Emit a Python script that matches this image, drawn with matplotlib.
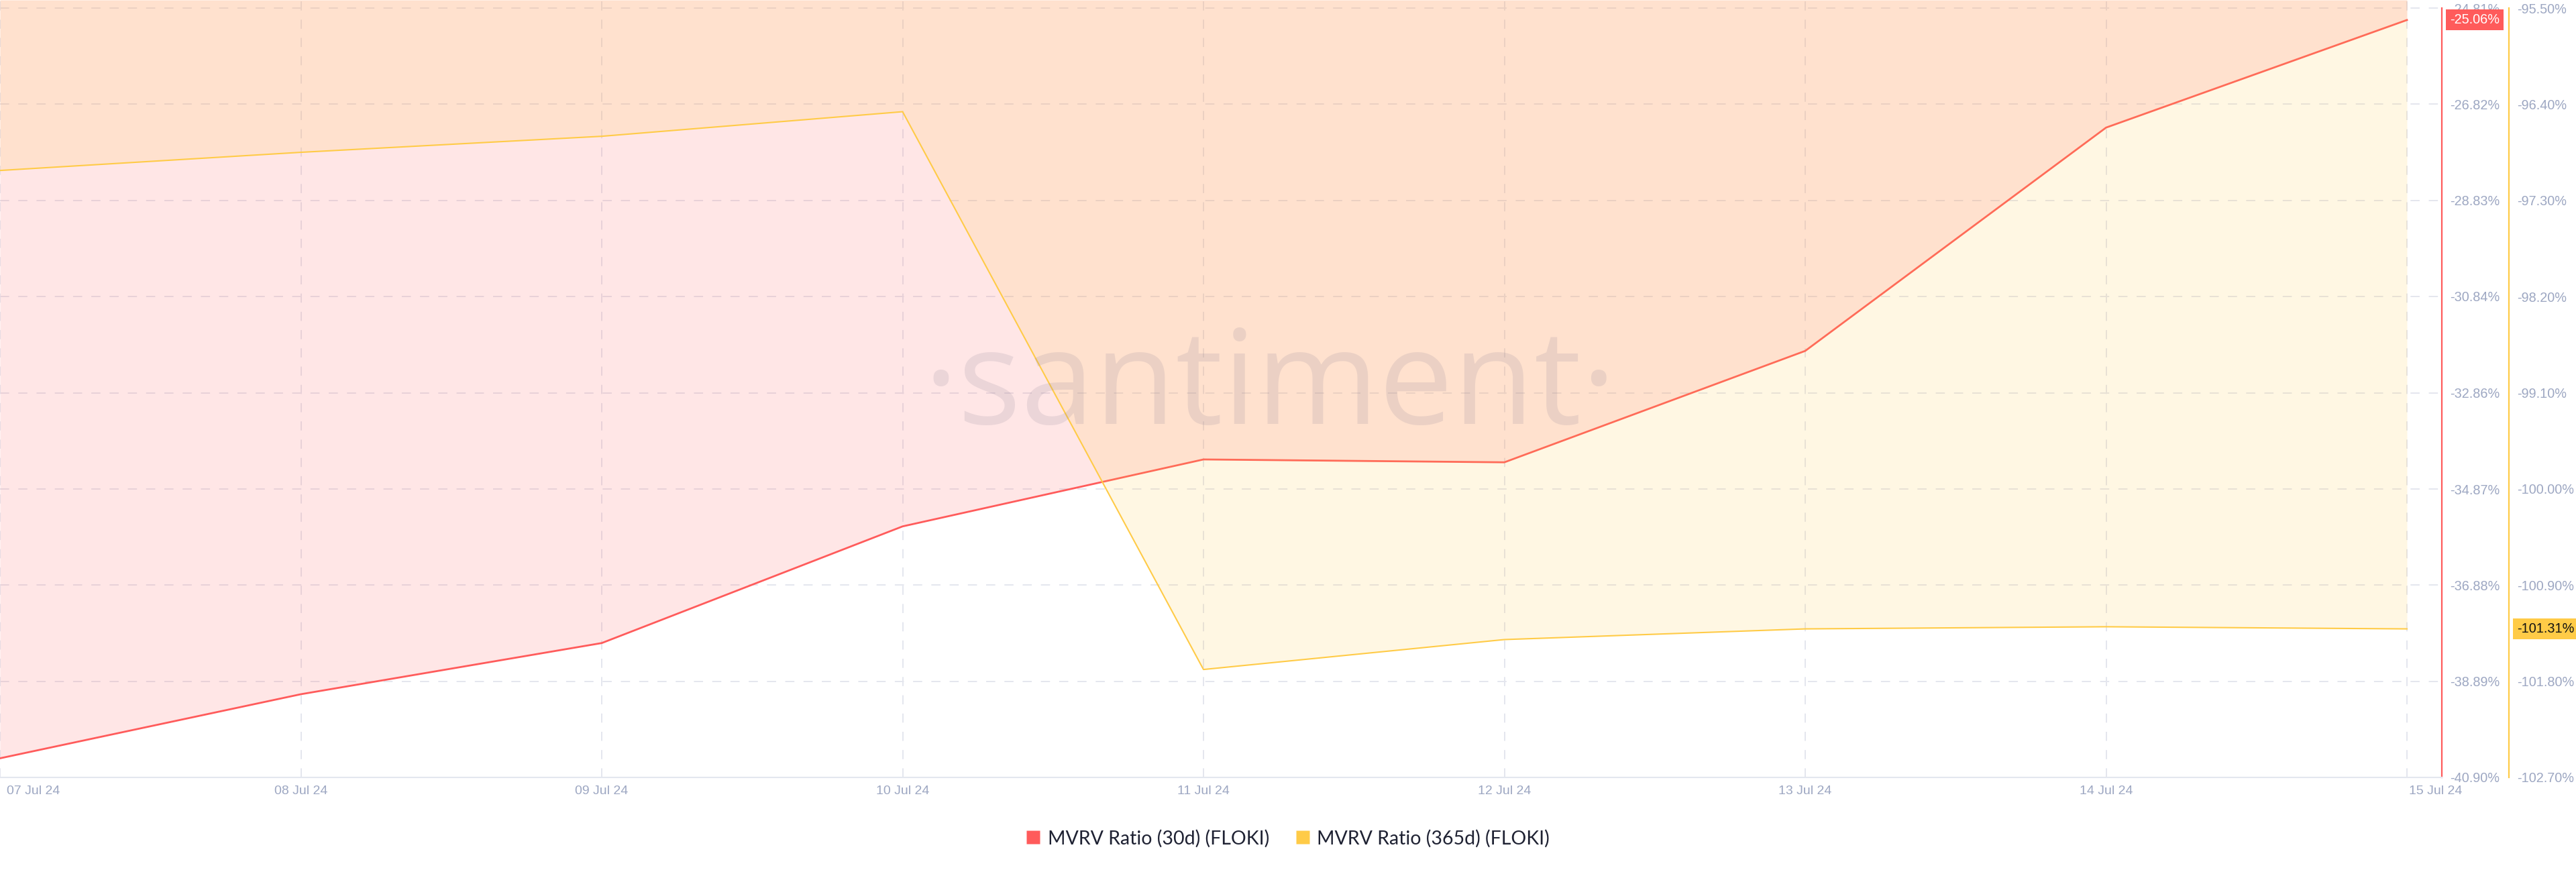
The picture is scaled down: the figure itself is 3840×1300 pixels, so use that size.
import pandas as pd
import matplotlib.pyplot as plt
import matplotlib.dates as mdates
from matplotlib.lines import Line2D
from matplotlib.transforms import ScaledTranslation

# values
dates = ['2024-07-07', '2024-07-08', '2024-07-09', '2024-07-10', '2024-07-11',
         '2024-07-12', '2024-07-13', '2024-07-14', '2024-07-15']
mvrv_30d = [-40.50, -39.16, -38.09, -35.65, -34.25, -34.31, -31.98, -27.31, -25.06]
mvrv_365d = [-97.02, -96.85, -96.70, -96.47, -101.69, -101.41, -101.31, -101.29, -101.31]

left_ticks = [-24.81, -26.82, -28.83, -30.84, -32.86, -34.87, -36.88, -38.89, -40.90]
right_ticks = [-95.50, -96.40, -97.30, -98.20, -99.10, -100.00, -100.90, -101.80, -102.70]

RED = '#ff5b5b'
YELLOW = '#ffcb47'
TICK_COL = '#9da7c2'
GRID_COL = '#e4e6ee'


def main():
    x = pd.to_datetime(dates)

    fig = plt.figure(figsize=(38.4, 13), dpi=100)
    ax = fig.add_axes([0, 1 - 1159 / 1300, 3640 / 3840, 1159 / 1300])
    ax2 = ax.twinx()

    # axis limits (top of plot a bit above the top gridline)
    lo1, hi1 = left_ticks[-1], left_ticks[0]
    lo2, hi2 = right_ticks[-1], right_ticks[0]
    top1 = hi1 + 12 * (hi1 - lo1) / 1147
    top2 = hi2 + 12 * (hi2 - lo2) / 1147
    ax.set_ylim(lo1, top1)
    ax2.set_ylim(lo2, top2)
    ax.set_xlim(x[0], x[0] + pd.Timedelta(days=3640 / 448.5))

    # areas filled above each line
    ax.fill_between(x, mvrv_30d, top1, color=RED, alpha=0.15, lw=0)
    ax.plot(x, mvrv_30d, color=RED, lw=2.0)
    ax2.fill_between(x, mvrv_365d, top2, color=YELLOW, alpha=0.15, lw=0)
    ax2.plot(x, mvrv_365d, color=YELLOW, lw=1.5)

    # grid
    ax.set_yticks(left_ticks)
    ax.set_yticklabels(['%.2f%%' % v for v in left_ticks])
    ax2.set_yticks(right_ticks)
    ax2.set_yticklabels(['%.2f%%' % v for v in right_ticks])
    ax.set_xticks(x)
    ax.xaxis.set_major_formatter(mdates.DateFormatter('%d %b %y'))
    ax.grid(True, color=GRID_COL, lw=1.4, linestyle=(0, (7, 7)))
    ax.set_axisbelow(True)

    # spines
    for s in ['left', 'top']:
        ax.spines[s].set_visible(False)
    for s in ['left', 'top', 'bottom']:
        ax2.spines[s].set_visible(False)
    ax.spines['bottom'].set_color('#e3e7ef')
    ax.spines['bottom'].set_linewidth(1.5)
    ax.spines['right'].set_color(RED)
    ax.spines['right'].set_linewidth(1.6)
    ax.spines['right'].set_bounds(lo1, hi1)
    ax2.spines['right'].set_color(YELLOW)
    ax2.spines['right'].set_linewidth(1.6)
    ax2.spines['right'].set_bounds(lo2, hi2)
    ax2.spines['right'].set_position(('outward', 72))

    ax.yaxis.tick_right()
    for a in (ax, ax2):
        a.tick_params(axis='y', length=0, pad=8.6, labelcolor=TICK_COL, labelsize=14.3)
        for lab in a.get_yticklabels():
            lab.set_fontfamily('Liberation Sans')
    ax.tick_params(axis='x', length=0, pad=9, labelcolor=TICK_COL, labelsize=14)
    xlabels = ax.get_xticklabels()
    for lab in xlabels:
        lab.set_fontfamily('Liberation Sans')
    xlabels[0].set_ha('left')
    xlabels[0].set_transform(xlabels[0].get_transform() + ScaledTranslation(0.1, 0, fig.dpi_scale_trans))
    xlabels[-1].set_ha('left')
    xlabels[-1].set_transform(xlabels[-1].get_transform() + ScaledTranslation(0.03, 0, fig.dpi_scale_trans))

    # last value badges
    ax.annotate('%.2f%%' % mvrv_30d[-1], xy=(1, mvrv_30d[-1]), xycoords=('axes fraction', 'data'),
                xytext=(8.6, 0), textcoords='offset points', ha='left', va='center',
                fontsize=14.3, family='Liberation Sans', color='white',
                bbox=dict(boxstyle='square,pad=0.3', fc=RED, ec='none'), annotation_clip=False)
    ax2.annotate('%.2f%%' % mvrv_365d[-1], xy=(1, mvrv_365d[-1]), xycoords=('axes fraction', 'data'),
                 xytext=(72 + 8.6, 0), textcoords='offset points', ha='left', va='center',
                 fontsize=14.3, family='Liberation Sans', color='#111111',
                 bbox=dict(boxstyle='square,pad=0.3', fc=YELLOW, ec='none'), annotation_clip=False)

    # watermark
    fig.text(0.493, 1 - 632 / 1300, '·santiment·', ha='center', va='baseline',
             fontsize=142, family='Open Sans', color='#8c8296', alpha=0.17)

    # legend
    handles = [Line2D([], [], marker='s', ls='none', ms=13.7, mfc=RED, mec='none'),
               Line2D([], [], marker='s', ls='none', ms=13.7, mfc=YELLOW, mec='none')]
    fig.legend(handles, ['MVRV Ratio (30d) (FLOKI)', 'MVRV Ratio (365d) (FLOKI)'],
               loc='center', bbox_to_anchor=(0.5, 1 - 1250 / 1300), ncol=2, frameon=False,
               prop={'family': 'Lato', 'size': 20.5}, labelcolor='#1f2233',
               handlelength=0.7, handletextpad=0.4, columnspacing=1.4)

    fig.savefig('out.png', dpi=100)


if __name__ == '__main__':
    main()
